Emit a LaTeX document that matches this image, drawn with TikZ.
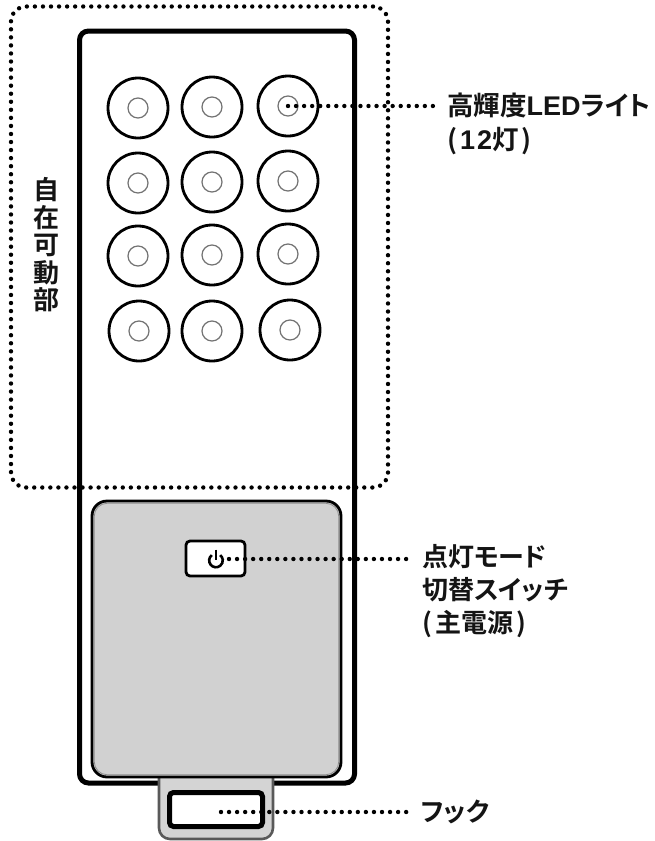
\documentclass[tikz,border=0pt]{standalone}
\usepackage{fontspec}
\setmainfont[RawFeature={+palt}]{Noto Sans CJK JP Bold}
\newfontfamily\latinbold{Liberation Sans Bold}
\usetikzlibrary{calc}
\tikzset{
  box/.style={draw=black,line width=#1,inner sep=0pt},
  lamp/.style={circle,draw=black,fill=white,line width=2.8pt,minimum size=60pt,inner sep=0pt},
  core/.style={circle,draw=black!55,line width=1.2pt,minimum size=20pt,inner sep=0pt},
  dots/.style={draw=black,line width=4.4pt,line cap=round,dash pattern=on 0pt off 8.05pt},
  label/.style={anchor=north west,inner sep=0pt,align=left,text=black!92},
}
\begin{document}
\begin{tikzpicture}[x=1pt,y=-1pt]
\useasboundingbox (0,0) rectangle (655,841);
\fill[white] (0,0) rectangle (655,841);
% body
\node[box=5pt,rounded corners=9pt,minimum width=275pt,minimum height=752pt] (body) at (217,407) {};
% hook
\node[box=2.6pt,draw=black!65,fill=black!17,rounded corners=11pt,minimum width=114pt,minimum height=74pt] (hook) at (216,802) {};
\node[box=5pt,fill=white,rounded corners=4pt,minimum width=93pt,minimum height=34pt] (hookhole) at (216,809.5) {};
% panel
\node[box=2.8pt,fill=black!18,rounded corners=15pt,minimum width=249pt,minimum height=276pt] (panel) at (216.5,639) {};
\node[draw=black!45,line width=0.8pt,inner sep=0pt,rounded corners=13pt,minimum width=244.5pt,minimum height=271.5pt] (panelin) at (216.5,639) {};
% lamps
\foreach \n/\x/\y in {a/138/108,b/212/107,c/288/106,d/138/183,e/212/182,f/288/181,g/138/256,h/212/255,i/288/254,j/139/331,k/212/331,l/290/330}{
  \node[lamp] (lamp\n) at (\x,\y) {};
  \node[core] (core\n) at (\x,\y) {};
}
% switch
\node[box=2.8pt,fill=white,rounded corners=4pt,minimum width=59pt,minimum height=35pt] (switch) at (215.5,558.5) {};
\coordinate (pw) at (216,560.5);
\draw[line width=2.6pt,line cap=butt] ($(pw)+(-4.2,-5.4)$) arc[start angle=128,end angle=412,radius=6.8pt];
\draw[line width=2.6pt,line cap=butt] ($(pw)+(0,-11)$) -- ($(pw)+(0,-1)$);
% movable region
\node[box=4.4pt,dots,rounded corners=15pt,minimum width=377pt,minimum height=481pt] (region) at (199.5,247) {};
% labels
\node[label,font=\fontsize{26.5}{34}\selectfont] (ledlabel) at (447,92.5) {高輝度{\latinbold\fontsize{27}{34}\selectfont LED}ライト\\(\kern3pt{\latinbold\fontsize{27}{34}\selectfont 1\kern2pt 2}灯\kern3pt)};
\node[label,font=\fontsize{26}{33}\selectfont] (modelabel) at (422,544) {点灯モード\\切替スイッチ\\(\kern3pt 主電源\kern3pt)};
\node[label,font=\fontsize{26}{33}\selectfont] (hooklabel) at (421,800) {フック};
\node[anchor=center,inner sep=0pt,align=center,font=\fontsize{26}{27.5}\selectfont,text=black!92] (regionlabel) at (47,245) {自\\在\\可\\動\\部};
% connectors
\coordinate (ledend) at (436,106);
\coordinate (modeend) at (411,559);
\coordinate (hookend) at (409,812);
\coordinate (swstart) at (229,559);
\coordinate (hookstart) at (221,812);
\draw[dots] (lampc.center) -- (ledend);
\draw[dots] (swstart) -- (modeend);
\draw[dots] (hookstart) -- (hookend);
\end{tikzpicture}
\end{document}
